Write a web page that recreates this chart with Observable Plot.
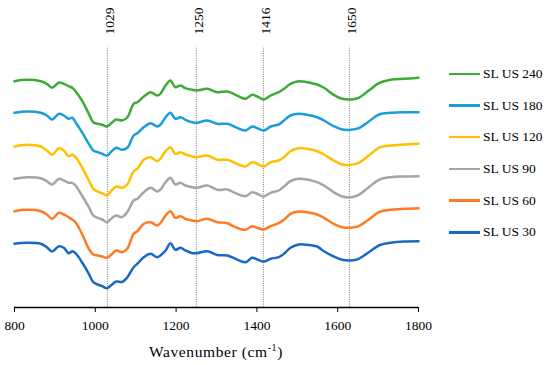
<!DOCTYPE html>
<html><head><meta charset="utf-8">
<script src="https://cdn.jsdelivr.net/npm/d3@7"></script>
<script src="https://cdn.jsdelivr.net/npm/@observablehq/plot@0.6"></script>
<style>
body{margin:0;background:#fff;}
#wrap{position:relative;width:550px;height:365px;font-family:"Liberation Serif",serif;color:#000;}
#wrap svg{position:absolute;left:0;top:0;}
#legend{position:absolute;left:449px;top:58px;}
.row{height:31.7px;display:flex;align-items:center;font-size:13.5px;white-space:nowrap;}
.sw{width:31px;height:2.5px;margin-right:3px;}
</style></head><body><div id="wrap"><div id="legend"></div></div>
<script>
const wavenumbers = [800,830,865,880,893,910,922,934,943,951,967,984,995,1006,1017,1029,1040,1052,1066,1079,1095,1104,1120,1137,1153,1161,1174,1186,1198,1211,1223,1240,1252,1277,1302,1327,1347,1372,1388,1401,1417,1434,1454,1467,1483,1504,1524,1549,1566,1590,1611,1632,1652,1677,1702,1731,1764,1800];

const slUs240 = [22.63,22.77,22.63,22.37,21.97,22.50,22.37,22.13,21.97,21.63,20.70,19.37,18.53,18.37,18.27,18.10,18.45,18.80,18.70,19.00,20.37,20.53,21.10,21.53,21.20,21.37,22.20,22.70,22.03,22.20,21.93,21.77,21.70,21.87,21.53,21.60,21.27,20.87,21.27,21.10,20.80,21.20,21.53,21.87,22.37,22.63,22.53,22.30,21.97,21.27,20.87,20.80,20.97,21.70,22.43,22.77,22.87,22.97];
const slUs180 = [19.47,19.60,19.47,19.20,18.80,19.37,19.20,18.87,18.97,18.53,17.53,16.37,15.70,15.53,15.37,15.20,15.60,15.97,15.77,15.97,17.20,17.43,18.03,18.43,18.10,18.27,19.03,19.47,18.87,19.03,18.77,18.53,18.47,18.70,18.37,18.37,18.03,17.70,18.10,17.93,17.70,18.10,18.30,18.70,19.20,19.37,19.27,19.03,18.70,18.13,17.80,17.77,17.93,18.60,19.30,19.47,19.53,19.53];
const slUs120 = [16.10,16.27,16.10,15.70,15.27,15.93,15.70,15.13,15.27,15.03,14.03,12.70,11.87,11.60,11.43,11.20,11.70,12.10,11.97,12.30,13.63,13.87,14.77,15.03,14.63,14.87,15.63,16.03,15.37,15.53,15.30,15.10,15.03,15.20,14.77,14.77,14.43,14.10,14.53,14.37,14.10,14.53,14.70,15.03,15.63,15.93,15.87,15.63,15.30,14.70,14.30,14.27,14.47,15.20,15.97,16.20,16.30,16.37];
const slUs90 = [12.87,13.03,12.93,12.63,12.30,12.87,12.70,12.47,12.47,12.20,11.20,10.03,9.20,8.97,8.80,8.53,8.90,9.20,9.03,9.53,10.70,10.87,11.53,11.97,11.60,11.77,12.53,12.97,12.30,12.47,12.20,12.03,11.97,12.20,11.77,11.80,11.43,11.13,11.53,11.37,11.10,11.47,11.70,12.10,12.63,12.87,12.80,12.53,12.20,11.53,11.10,11.03,11.27,12.03,12.77,13.03,13.10,13.13];
const slUs60 = [9.63,9.77,9.63,9.30,8.87,9.47,9.30,9.03,8.80,8.53,7.37,5.87,5.30,5.20,5.10,4.97,5.30,5.70,5.53,5.87,7.37,7.63,8.37,8.53,8.20,8.43,9.20,9.63,8.97,9.13,8.87,8.70,8.63,8.87,8.53,8.43,8.03,7.77,8.13,7.97,7.80,8.13,8.43,8.77,9.37,9.60,9.53,9.30,8.97,8.37,8.03,7.97,8.13,8.80,9.53,9.77,9.87,9.93];
const slUs30 = [6.37,6.47,6.37,6.03,5.60,6.13,5.97,5.43,5.63,5.43,4.53,3.37,2.53,2.30,2.13,1.93,2.25,2.60,2.55,3.00,4.03,4.37,5.03,5.37,5.03,5.20,5.70,6.43,5.77,5.97,5.70,5.43,5.43,5.63,5.25,5.20,4.87,4.53,4.97,4.80,4.60,4.87,5.03,5.37,5.97,6.30,6.27,6.10,5.63,5.10,4.77,4.70,4.87,5.53,6.20,6.47,6.60,6.63];

const seriesNames = ["SL US 240","SL US 180","SL US 120","SL US 90","SL US 60","SL US 30"];
const seriesColors = ["#3dab35","#1b9ddb","#ffc000","#a5a5a5","#ff7a22","#1a68c4"];
const peakPositions = [1030,1250,1416,1629];
const peakLabels = ["1029","1250","1416","1650"];
const xTicks = [800,1000,1200,1400,1600,1800];
const ruleTop = 26.03;
const labelBase = 27.3;

const seriesValues = [slUs240, slUs180, slUs120, slUs90, slUs60, slUs30];
const rows = seriesNames.flatMap((name, i) => wavenumbers.map((w, j) => ({series: name, w, v: seriesValues[i][j]})));
const peaks = peakPositions.map((p, i) => ({p, label: peakLabels[i]}));

const chart = Plot.plot({
  width: 550, height: 365,
  marginLeft: 14, marginRight: 132, marginTop: 0, marginBottom: 58,
  style: {fontFamily: '"Liberation Serif", serif', fontSize: "13.5px", color: "#000", background: "transparent"},
  x: {domain: [800, 1800]},
  y: {domain: [0, 30.7], axis: null},
  color: {domain: seriesNames, range: seriesColors},
  marks: [
    Plot.ruleX(peaks, {x: "p", y1: 0, y2: ruleTop, stroke: "#777", strokeWidth: 1, strokeDasharray: "1,1.3"}),
    Plot.text(peaks, {x: "p", y: labelBase, text: "label", rotate: -90, textAnchor: "start", lineAnchor: "middle", dx: 2, fontSize: 13.5}),
    Plot.line(rows, {x: "w", y: "v", z: "series", stroke: "series", curve: "catmull-rom", strokeWidth: 2.5}),
    Plot.ruleY([0], {stroke: "#000", strokeWidth: 1.3}),
    Plot.axisX({ticks: xTicks, tickSize: 5, tickPadding: 8, label: null, fontSize: 13.5, tickFormat: d => String(d)})
  ]
});
const wrap = document.getElementById("wrap");
wrap.insertBefore(chart, wrap.firstChild);

// axis title with superscript
const svg = d3.select(chart);
const t = svg.append("text").attr("x", 216).attr("y", 356.5).attr("text-anchor", "middle")
  .attr("font-size", 15.5).attr("letter-spacing", 0.6).attr("fill", "#000")
  .style("font-family", '"Liberation Serif", serif');
t.append("tspan").text("Wavenumber (cm");
t.append("tspan").attr("font-size", 10).attr("dy", -6).text("-1");
t.append("tspan").attr("dy", 6).text(")");

const legend = document.getElementById("legend");
seriesNames.forEach((name, i) => {
  const row = document.createElement("div");
  row.className = "row";
  const sw = document.createElement("span");
  sw.className = "sw";
  sw.style.background = seriesColors[i];
  row.appendChild(sw);
  row.appendChild(document.createTextNode(name));
  legend.appendChild(row);
});
</script></body></html>
